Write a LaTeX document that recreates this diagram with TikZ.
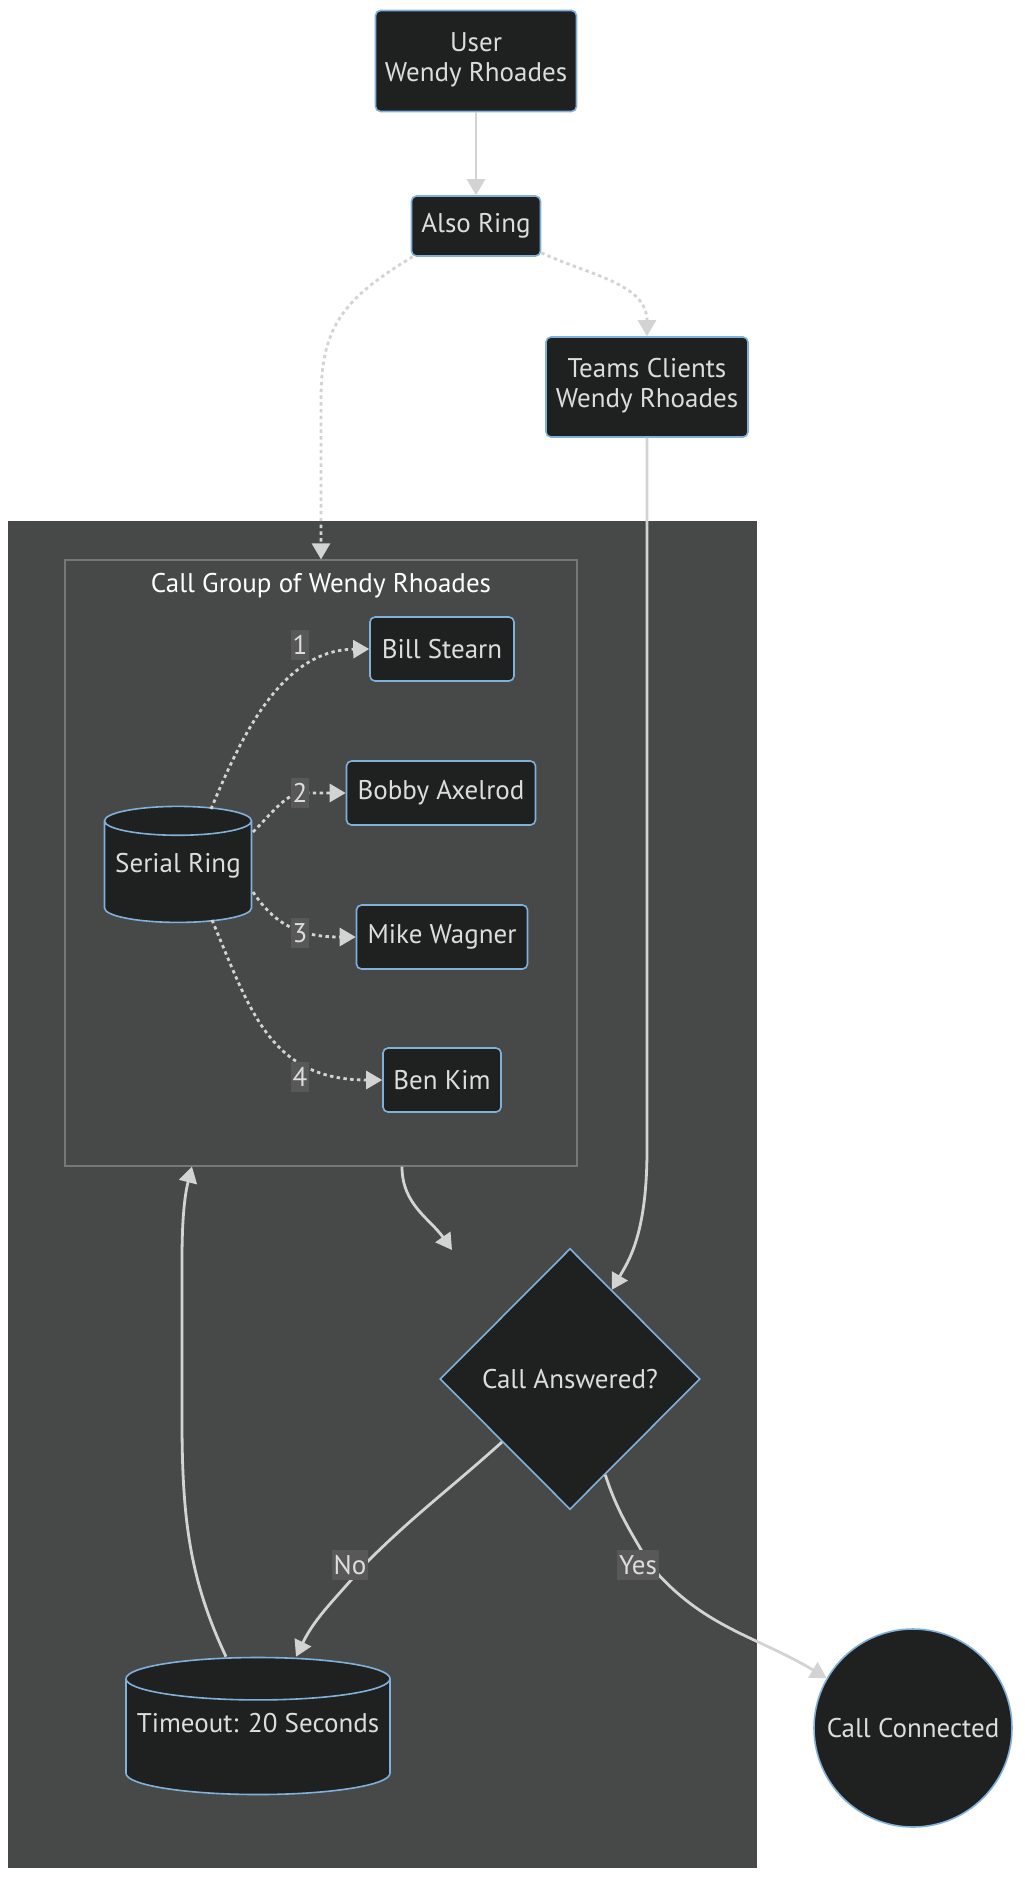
\documentclass[tikz,border=0pt]{standalone}
\usepackage{fontspec}
\setmainfont{PT Sans}
\usetikzlibrary{shapes.geometric, arrows.meta, positioning, calc}

\definecolor{nodebg}{HTML}{1F2020}
\definecolor{nodeline}{HTML}{81B1DB}
\definecolor{panelbg}{HTML}{474949}
\definecolor{grpline}{HTML}{767878}
\definecolor{linkcol}{HTML}{D3D3D3}
\definecolor{txtcol}{HTML}{DDDDDD}
\definecolor{lblbg}{HTML}{585858}

\begin{document}
\begin{tikzpicture}[x=0.5pt, y=-0.5pt,
  font=\fontsize{13.5}{15}\selectfont,
  >={Triangle[length=8pt, width=9pt]},
  box/.style={rectangle, rounded corners=2.5pt, draw=nodeline, line width=0.8pt, fill=nodebg, text=txtcol, align=center, inner sep=0pt},
  drum/.style={cylinder, shape border rotate=90, draw=nodeline, line width=0.8pt, fill=nodebg, text=txtcol, inner sep=0pt, text height=10pt},
  link/.style={->, draw=linkcol, line width=1.4pt},
  dotlink/.style={link, dash pattern=on 1.7pt off 1.7pt},
  lbl/.style={fill=lblbg, text=txtcol, inner xsep=1pt, inner ysep=0pt, minimum height=15pt}]
\useasboundingbox (0,0) rectangle (1024,1881);

% background panel and call group
\node[rectangle, fill=panelbg, minimum width=374.5pt, minimum height=673.5pt] (outer) at (382.5,1194.5) {};
\node[rectangle, draw=grpline, line width=0.6pt, fill=panelbg, minimum width=256pt, minimum height=303pt] (grp) at (321,863) {};
\node[text=white] (grptitle) at (321,586) {Call Group of Wendy Rhoades};

\node[box, minimum width=100.5pt, minimum height=50.5pt] (user) at (476,61) {User\\Wendy Rhoades\\[-11pt]};
\node[box, minimum width=64.5pt, minimum height=30pt] (also) at (476,226) {Also Ring};
\node[box, minimum width=101pt, minimum height=50pt] (teams) at (647,387) {Teams Clients\\Wendy Rhoades\\[-11pt]};

\node[drum, minimum width=73.5pt, minimum height=58pt, aspect=0.23, text depth=10pt] (ring) at (178,872) {Serial Ring};
\node[box, minimum width=72pt, minimum height=32pt] (bill) at (442,649) {Bill Stearn};
\node[box, minimum width=94.5pt, minimum height=32pt] (bobby) at (441,793) {Bobby Axelrod};
\node[box, minimum width=85.5pt, minimum height=32pt] (mike) at (442,937) {Mike Wagner};
\node[box, minimum width=59pt, minimum height=32pt] (ben) at (442,1080) {Ben Kim};

\node[diamond, draw=nodeline, line width=0.8pt, fill=nodebg, text=txtcol, inner sep=0pt, minimum width=130pt, minimum height=130.5pt] (dec) at (570,1379) {Call Answered?};
\node[drum, minimum width=132pt, minimum height=68.5pt, aspect=0.175, text depth=15pt] (tmo) at (258,1737) {Timeout: 20 Seconds};
\node[circle, draw=nodeline, line width=0.8pt, fill=nodebg, text=txtcol, inner sep=0pt, minimum size=99pt] (conn) at (913,1728) {Call Connected};

% connectors
\draw[link] (user) -- (also);
\draw[dotlink] ([xshift=1pt]also.south west) .. controls (340,300) and (321,330) .. (321,400) -- (grp.north);
\draw[dotlink] ([yshift=2pt]also.south east) to[out=-25, in=90] (teams.north);
\draw[link] (teams.south) -- (647,1150) .. controls (647,1235) and (628,1262) .. ($(dec.north)!0.32!(dec.east)$);

\draw[dotlink] ([shift={(33,-63)}]ring.center) .. controls (240,740) and (280,650) .. (bill.west) node[lbl] at (300,645) {1};
\draw[dotlink] ([shift={(75,-40)}]ring.center) .. controls (270,815) and (285,795) .. (300,793) node[lbl] {2} -- (bobby.west);
\draw[dotlink] ([shift={(75,20)}]ring.center) .. controls (275,925) and (300,937) .. (mike.west) node[lbl] at (300,933) {3};
\draw[dotlink] ([shift={(34,48)}]ring.center) .. controls (250,1010) and (270,1080) .. (ben.west) node[lbl] at (300,1077) {4};

\coordinate (gap) at (452,1250);
\draw[link] ([xshift=40.5pt]grp.south) to[out=270, in=125] (gap);

\draw[link] ($(dec.west)!0.48!(dec.south)$) to[out=222, in=45] (364,1565) node[lbl, xshift=-7pt] {No} to[out=230, in=64] ([xshift=19pt]tmo.north);
\draw[link] ($(dec.east)!0.73!(dec.south)$) to[out=-72, in=120] (650,1565) node[lbl, xshift=-6pt] {Yes} to[out=-50, in=149] (conn.150);
\draw[link] ([xshift=-16pt]tmo.north) .. controls (190,1580) and (182,1520) .. (182,1420) -- (182,1260) .. controls (182,1210) and (186,1190) .. ([xshift=-64.5pt]grp.south);
\end{tikzpicture}
\end{document}
